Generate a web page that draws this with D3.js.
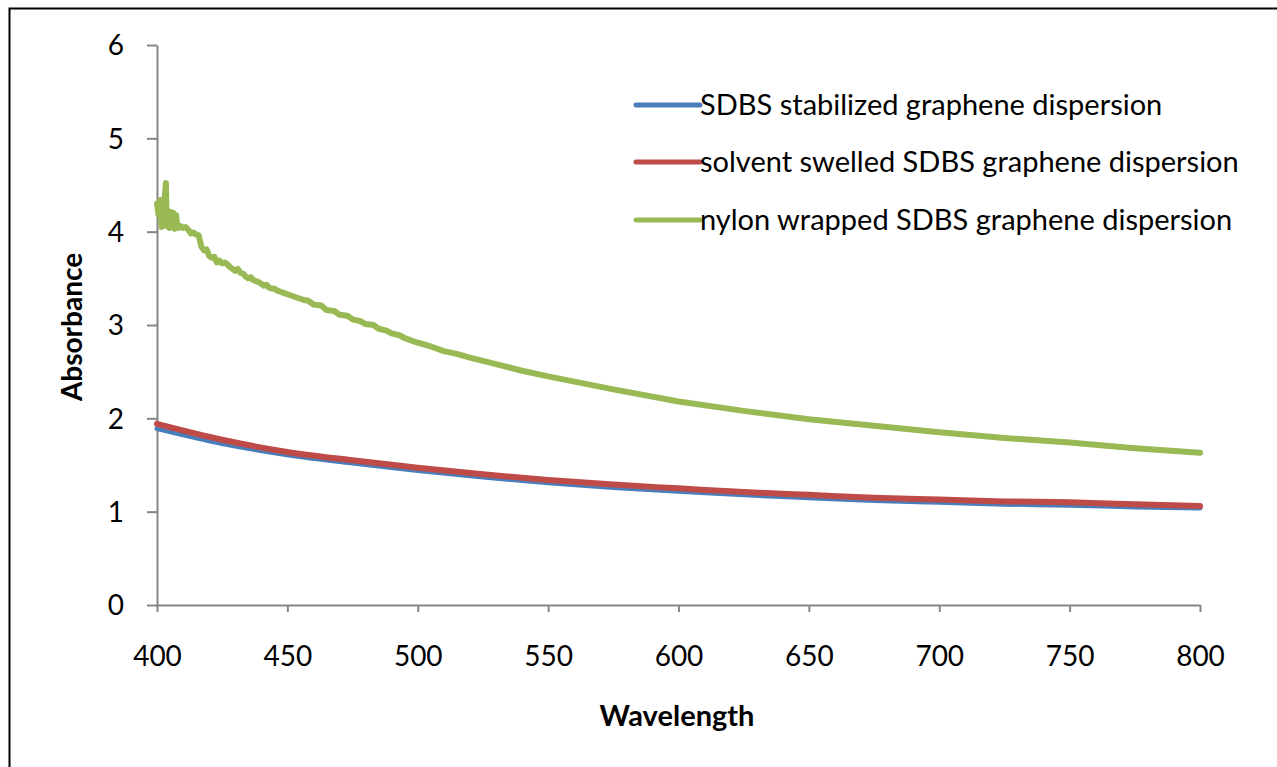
<!DOCTYPE html>
<html>
<head>
<meta charset="utf-8">
<script src="https://cdn.jsdelivr.net/npm/d3@7"></script>
<style>
  body { margin: 0; background: #fff; }
  svg { font-family: Lato, "Open Sans", sans-serif; }
</style>
</head>
<body>
<svg id="chart" width="1277" height="767"></svg>
<script>
// data
var seriesNames = ["SDBS stabilized graphene dispersion", "solvent swelled SDBS graphene dispersion", "nylon wrapped SDBS graphene dispersion"];
var seriesColors = ["#4a7ebb", "#be4b48", "#98b954"];

var smoothWl = [400, 425, 450, 475, 500, 525, 550, 575, 600, 625, 650, 675, 700, 725, 750, 775, 800];
var sdbsAbs = [1.89, 1.73, 1.61, 1.52, 1.44, 1.37, 1.31, 1.26, 1.22, 1.18, 1.15, 1.12, 1.10, 1.08, 1.07, 1.05, 1.04];
var swelledAbs = [1.94, 1.77, 1.64, 1.55, 1.47, 1.40, 1.34, 1.29, 1.25, 1.21, 1.18, 1.15, 1.13, 1.11, 1.10, 1.08, 1.06];

var nylonWl = [400, 400.6, 401.2, 401.8, 402.4, 403, 403.4, 403.8, 404.3, 404.8, 405.3, 405.8, 406.3, 406.8, 407.3, 407.8, 408.3, 409, 410, 411, 412, 413, 414, 415, 416, 417, 418, 419, 420, 421, 422, 423, 424, 425, 426, 427, 428, 429, 430, 431, 432, 433, 434, 435, 436, 437, 438, 439, 440, 441, 442, 443, 444, 445, 446, 448, 450, 453, 456, 458, 460, 463, 465, 468, 470, 473, 475, 478, 480, 483, 485, 488, 490, 493, 495, 500, 505, 510, 515, 520, 530, 540, 550, 575, 600, 625, 650, 675, 700, 725, 750, 775, 800];
var nylonAbs = [4.30, 4.18, 4.34, 4.05, 4.25, 4.38, 4.52, 4.06, 4.22, 4.04, 4.21, 4.06, 4.20, 4.03, 4.18, 4.05, 4.04, 4.06, 4.04, 4.05, 4.02, 3.98, 3.99, 3.97, 3.96, 3.84, 3.80, 3.81, 3.74, 3.72, 3.73, 3.67, 3.69, 3.66, 3.67, 3.65, 3.62, 3.60, 3.58, 3.60, 3.56, 3.55, 3.52, 3.50, 3.51, 3.48, 3.47, 3.46, 3.44, 3.42, 3.43, 3.40, 3.39, 3.39, 3.37, 3.35, 3.33, 3.30, 3.27, 3.26, 3.22, 3.21, 3.16, 3.15, 3.11, 3.10, 3.06, 3.04, 3.01, 3.00, 2.96, 2.94, 2.91, 2.89, 2.86, 2.81, 2.77, 2.72, 2.69, 2.65, 2.58, 2.51, 2.45, 2.31, 2.18, 2.08, 1.99, 1.92, 1.85, 1.79, 1.74, 1.68, 1.63];

var xTicks = [400, 450, 500, 550, 600, 650, 700, 750, 800];
var yTicks = [0, 1, 2, 3, 4, 5, 6];

var svg = d3.select("#chart");

// outer frame
svg.append("rect").attr("x", 9.5).attr("y", 8.5).attr("width", 1300).attr("height", 800)
  .attr("fill", "none").attr("stroke", "#000").attr("stroke-width", 2);

var x = d3.scaleLinear().domain([400, 800]).range([157, 1200]);
var y = d3.scaleLinear().domain([0, 6]).range([605, 45]);

var axisColor = "#868686";

var gx = svg.append("g").attr("transform", "translate(0,605)")
  .call(d3.axisBottom(x).tickValues(xTicks).tickFormat(d3.format("d")).tickSize(7).tickPadding(34).tickSizeOuter(0));
var gy = svg.append("g").attr("transform", "translate(157,0)")
  .call(d3.axisLeft(y).tickValues(yTicks).tickFormat(d3.format("d")).tickSize(10).tickPadding(23).tickSizeOuter(0));

[gx, gy].forEach(function(g) {
  g.select(".domain").attr("stroke", axisColor).attr("stroke-width", 2);
  g.selectAll(".tick line").attr("stroke", axisColor).attr("stroke-width", 2);
  g.selectAll(".tick text").attr("fill", "#000").style("font-size", "28px").style("font-family", "Lato, sans-serif");
});
gy.selectAll(".tick text").attr("dy", "0.35em");

// axis titles
svg.append("text").attr("x", 677).attr("y", 726).attr("text-anchor", "middle")
  .style("font-size", "29px").style("font-weight", "bold").text("Wavelength");
svg.append("text").attr("transform", "translate(82,327) rotate(-90)").attr("text-anchor", "middle")
  .style("font-size", "28px").style("font-weight", "bold").text("Absorbance");

var line = d3.line().x(function(d) { return x(d[0]); }).y(function(d) { return y(d[1]); });
var smooth = d3.line().curve(d3.curveMonotoneX).x(function(d) { return x(d[0]); }).y(function(d) { return y(d[1]); });

svg.append("path").datum(d3.zip(smoothWl, sdbsAbs)).attr("d", smooth)
  .attr("fill", "none").attr("stroke", seriesColors[0]).attr("stroke-width", 5).attr("stroke-linecap", "round");
svg.append("path").datum(d3.zip(smoothWl, swelledAbs)).attr("d", smooth)
  .attr("fill", "none").attr("stroke", seriesColors[1]).attr("stroke-width", 6).attr("stroke-linecap", "round");
svg.append("path").datum(d3.zip(nylonWl, nylonAbs)).attr("d", line)
  .attr("fill", "none").attr("stroke", seriesColors[2]).attr("stroke-width", 6).attr("stroke-linecap", "round").attr("stroke-linejoin", "round");

// legend
var legendY = [105, 162, 220];
seriesNames.forEach(function(name, i) {
  svg.append("line").attr("x1", 636).attr("x2", 700).attr("y1", legendY[i]).attr("y2", legendY[i])
    .attr("stroke", seriesColors[i]).attr("stroke-width", 5).attr("stroke-linecap", "round");
  svg.append("text").attr("x", 700).attr("y", legendY[i]).attr("dy", "0.35em")
    .style("font-size", "29px").text(name);
});
</script>
</body>
</html>
